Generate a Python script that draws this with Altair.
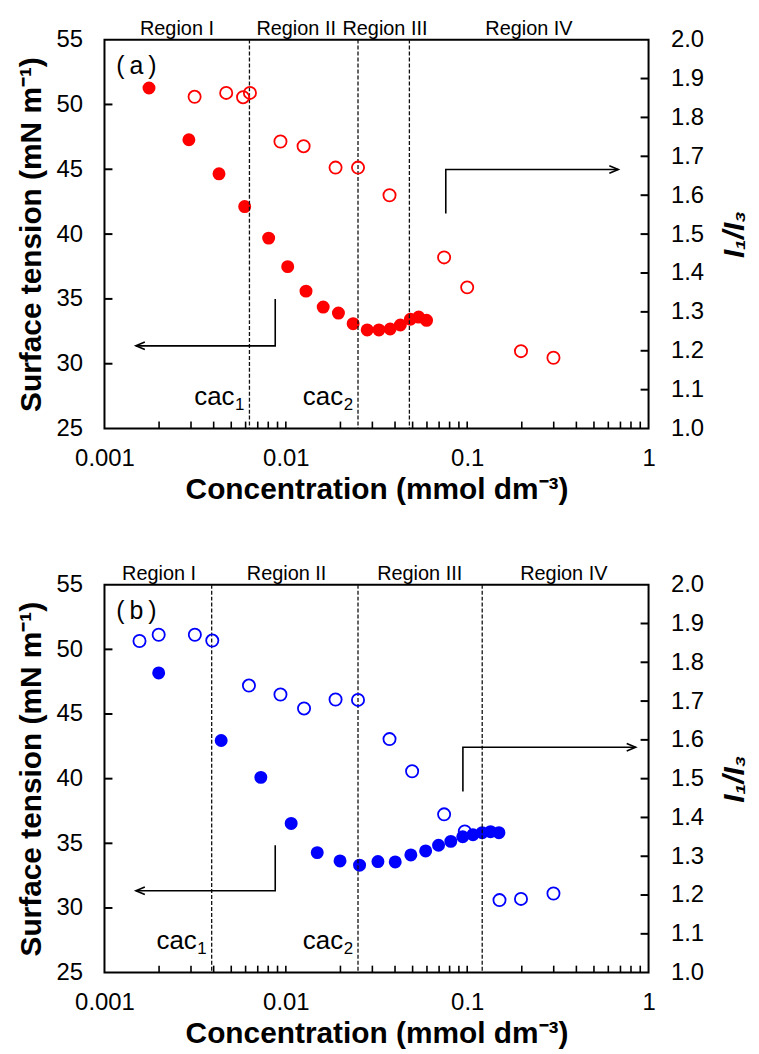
import altair as alt
import pandas as pd

FONT = "Liberation Sans"

# ---------------- Panel (a) data ----------------
a_st_x = [0.00176, 0.00292, 0.00428, 0.00593, 0.00804, 0.01024, 0.01292, 0.01607, 0.0195,
          0.0235, 0.0281, 0.0326, 0.0376, 0.0428, 0.0486, 0.054, 0.0597]
a_st_y = [51.27, 47.28, 44.65, 42.12, 39.69, 37.49, 35.60, 34.37, 33.91,
          33.09, 32.61, 32.61, 32.68, 32.99, 33.43, 33.60, 33.35]
a_ratio_x = [0.00314, 0.00469, 0.00581, 0.00634, 0.00934, 0.01253, 0.0188, 0.025,
             0.0373, 0.0746, 0.100, 0.198, 0.299]
a_ratio_y = [1.853, 1.863, 1.852, 1.863, 1.738, 1.726, 1.671, 1.671,
             1.600, 1.440, 1.363, 1.199, 1.182]
a_lines = [0.0063, 0.025, 0.048]
a_region_x = [0.00251, 0.0114, 0.0352, 0.219]

# ---------------- Panel (b) data ----------------
b_st_x = [0.00199, 0.0044, 0.00728, 0.0107, 0.0149, 0.0199, 0.0255, 0.0322, 0.0401,
          0.0489, 0.059, 0.0695, 0.0812, 0.0945, 0.1076, 0.121, 0.1345, 0.1496]
b_st_y = [48.18, 42.95, 40.10, 36.54, 34.28, 33.64, 33.31, 33.59, 33.56,
          34.10, 34.41, 34.85, 35.15, 35.51, 35.67, 35.82, 35.90, 35.82]
b_ratio_x = [0.00156, 0.00199, 0.00315, 0.00393, 0.00626, 0.00934, 0.0126, 0.0188, 0.025,
             0.0373, 0.0497, 0.0746, 0.097, 0.1507, 0.198, 0.299]
b_ratio_y = [1.855, 1.871, 1.871, 1.856, 1.740, 1.717, 1.681, 1.704, 1.703,
             1.602, 1.519, 1.408, 1.364, 1.187, 1.190, 1.204]
b_lines = [0.0039, 0.025, 0.121]
b_region_x = [0.0020, 0.0101, 0.0547, 0.341]

region_names = ["Region I", "Region II", "Region III", "Region IV"]
cac_names = ["cac", "cac"]
cac_subs = ["1", "2"]
cac_level = 26.8

# arrows: (x list, y list)
a_left_arrow_x = [0.00874, 0.00874, 0.00149]
a_left_arrow_y = [35.0, 31.38, 31.38]
a_right_arrow_x = [0.0762, 0.0762, 0.681]
a_right_arrow_y = [1.553, 1.666, 1.666]
b_left_arrow_x = [0.00874, 0.00874, 0.00149]
b_left_arrow_y = [34.85, 31.33, 31.33]
b_right_arrow_x = [0.0947, 0.0947, 0.849]
b_right_arrow_y = [1.467, 1.581, 1.581]

panel_label_x = 0.0015
panel_label_y = 52.93

left_ticks = [30, 35, 40, 45, 50]
right_ticks = [1.1, 1.2, 1.3, 1.4, 1.5, 1.6, 1.7, 1.8, 1.9]
x_minor = [m * 10.0 ** k for k in (-3, -2, -1) for m in range(2, 10)] + [0.01, 0.1]
x_labels = [0.001, 0.01, 0.1, 1]
left_labels = [25, 30, 35, 40, 45, 50, 55]
right_labels = [1.0, 1.1, 1.2, 1.3, 1.4, 1.5, 1.6, 1.7, 1.8, 1.9, 2.0]

W = 547


def panel(tag, st_x, st_y, r_x, r_y, color, lines, region_x, la_x, la_y, ra_x, ra_y, H):
    xs = alt.Scale(type="log", domain=[0.001, 1], nice=False)
    ls = alt.Scale(domain=[25, 55], nice=False, zero=False)
    rs = alt.Scale(domain=[1.0, 2.0], nice=False, zero=False)

    x_axis = alt.Axis(values=x_labels, labelExpr="format(datum.value, '~g')",
                      title="Concentration (mmol dm⁻³)", ticks=False, domain=False, grid=False,
                      labelFontSize=24, titleFontSize=30, titleFontWeight="bold",
                      labelPadding=18, titlePadding=4, labelFlush=False, orient="bottom")
    l_axis = alt.Axis(values=left_labels, format="d", orient="left",
                      title="Surface tension (mN m⁻¹)", ticks=False, domain=False, grid=False,
                      labelFontSize=24, titleFontSize=30, titleFontWeight="bold",
                      labelPadding=22, titlePadding=10, labelFlush=False)
    r_axis = alt.Axis(values=right_labels, format=".1f", orient="right",
                      title="I₁/I₃", titleAngle=270, titleBaseline="top", titleFontStyle="italic",
                      ticks=False, domain=False, grid=False,
                      labelFontSize=24, titleFontSize=30, titleFontWeight="bold",
                      labelPadding=22, titlePadding=16, labelFlush=False)

    def X(f):
        return alt.X(f, scale=xs, axis=x_axis)

    st_df = pd.DataFrame({"x": st_x, "y": st_y})
    r_df = pd.DataFrame({"x": r_x, "y": r_y})

    filled = alt.Chart(st_df).mark_circle(size=170, color=color, opacity=1).encode(
        x=X("x:Q"), y=alt.Y("y:Q", scale=ls, axis=l_axis))

    lt = alt.Chart(pd.DataFrame({"v": left_ticks})).mark_rule(color="black", strokeWidth=2).encode(
        y=alt.Y("v:Q", scale=ls, axis=None), x=alt.value(0), x2=alt.value(8))

    xt = alt.Chart(pd.DataFrame({"v": x_minor})).mark_rule(color="black", strokeWidth=1.6).encode(
        x=X("v:Q"), y=alt.value(H), y2=alt.value(H - 7))

    vl = alt.Chart(pd.DataFrame({"v": lines})).mark_rule(
        color="#111111", strokeWidth=1.3, strokeDash=[4, 2]).encode(
        x=X("v:Q"), y=alt.value(0), y2=alt.value(H))

    reg = alt.Chart(pd.DataFrame({"v": region_x, "t": region_names})).mark_text(
        fontSize=20, font=FONT, color="black", align="center", baseline="alphabetic").encode(
        x=X("v:Q"), y=alt.value(-5), text="t:N")

    cac_df = pd.DataFrame({"v": lines[:2], "y": [cac_level, cac_level],
                           "t": cac_names, "s": cac_subs})
    cac = alt.Chart(cac_df).mark_text(fontSize=26, font=FONT, color="black", align="right",
                                      baseline="alphabetic", dx=-15).encode(
        x=X("v:Q"), y=alt.Y("y:Q", scale=ls, axis=None), text="t:N")
    cacs = alt.Chart(cac_df).mark_text(fontSize=17, font=FONT, color="black", align="right",
                                       baseline="alphabetic", dx=-5, dy=5).encode(
        x=X("v:Q"), y=alt.Y("y:Q", scale=ls, axis=None), text="s:N")

    la = alt.Chart(pd.DataFrame({"x": la_x, "y": la_y, "o": [0, 1, 2]})).mark_line(
        color="black", strokeWidth=1.6).encode(
        x=X("x:Q"), y=alt.Y("y:Q", scale=ls, axis=None), order="o:Q")
    lah = alt.Chart(pd.DataFrame({"x": la_x[-1:], "y": la_y[-1:]})).mark_point(
        shape="M1,-0.42L0,0L1,0.42", filled=False, size=324, strokeWidth=1.6,
        color="black", opacity=1).encode(
        x=X("x:Q"), y=alt.Y("y:Q", scale=ls, axis=None))

    pl = alt.Chart(pd.DataFrame({"x": [panel_label_x], "y": [panel_label_y], "t": [tag]})).mark_text(
        fontSize=25, font=FONT, color="black", align="center", baseline="middle").encode(
        x=X("x:Q"), y=alt.Y("y:Q", scale=ls, axis=None), text="t:N")

    opened = alt.Chart(r_df).mark_point(shape="circle", filled=False, size=150, strokeWidth=1.8,
                                        color=color, opacity=1).encode(
        x=X("x:Q"), y=alt.Y("y:Q", scale=rs, axis=r_axis))

    rt = alt.Chart(pd.DataFrame({"v": right_ticks})).mark_rule(color="black", strokeWidth=2).encode(
        y=alt.Y("v:Q", scale=rs, axis=None), x=alt.value(W - 8), x2=alt.value(W))

    ra = alt.Chart(pd.DataFrame({"x": ra_x, "y": ra_y, "o": [0, 1, 2]})).mark_line(
        color="black", strokeWidth=1.6).encode(
        x=X("x:Q"), y=alt.Y("y:Q", scale=rs, axis=None), order="o:Q")
    rah = alt.Chart(pd.DataFrame({"x": ra_x[-1:], "y": ra_y[-1:]})).mark_point(
        shape="M-1,-0.42L0,0L-1,0.42", filled=False, size=324, strokeWidth=1.6,
        color="black", opacity=1).encode(
        x=X("x:Q"), y=alt.Y("y:Q", scale=rs, axis=None))

    return alt.layer(filled, lt, xt, vl, reg, cac, cacs, la, lah, pl, rt, ra, rah, opened
                     ).resolve_scale(y="independent").properties(width=W, height=H)


pa = panel("(\u2009a\u2009)", a_st_x, a_st_y, a_ratio_x, a_ratio_y, "#FF0000", a_lines, a_region_x,
           a_left_arrow_x, a_left_arrow_y, a_right_arrow_x, a_right_arrow_y, 391)
pb = panel("(\u2009b\u2009)", b_st_x, b_st_y, b_ratio_x, b_ratio_y, "#0000FF", b_lines, b_region_x,
           b_left_arrow_x, b_left_arrow_y, b_right_arrow_x, b_right_arrow_y, 390)

chart = alt.vconcat(pa, pb, spacing=58).properties(
    padding={"left": 7, "top": 7, "right": 0, "bottom": 0}
).configure_view(stroke="black", strokeWidth=2).configure_axis(
    labelFont=FONT, titleFont=FONT, labelColor="black", titleColor="black"
).configure_text(font=FONT)

chart.save("out.html", embed_options={"renderer": "svg", "actions": False})
